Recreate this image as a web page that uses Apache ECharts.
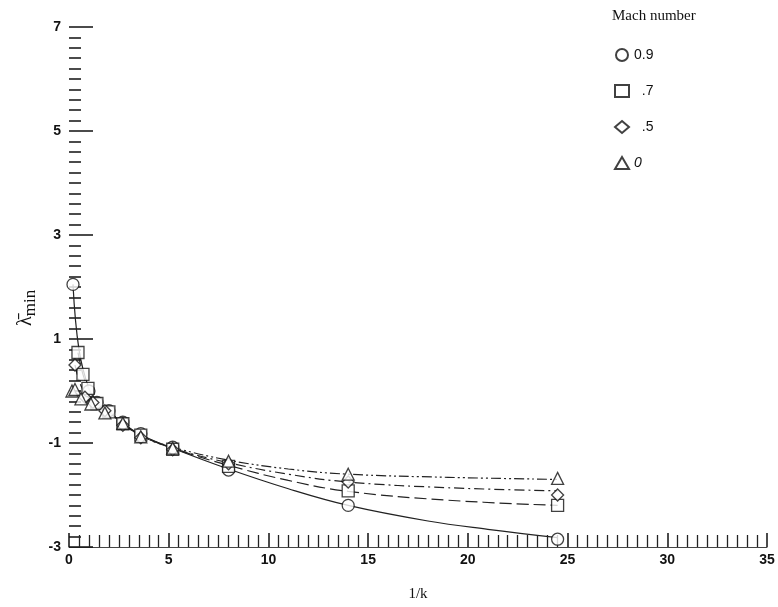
<!DOCTYPE html>
<html>
<head>
<meta charset="utf-8">
<script src="https://cdn.jsdelivr.net/npm/echarts@6/dist/echarts.min.js"></script>
<style>
  html, body { margin: 0; padding: 0; background: #fff; }
  #main { width: 778px; height: 607px; }
</style>
</head>
<body>
<div id="main"></div>
<script>
var machNames = ['0.9', '.7', '.5', '0']
var symbols = ['circle', 'rect', 'diamond', 'triangle']
var dashes = ['solid', [12, 5], [10, 4, 2, 4], [10, 3, 2, 3, 2, 3]]

// test points (1/k, lambda min)
var ptsX09 = [0.2, 1.0, 1.4, 2.0, 2.7, 3.6, 5.2, 8, 14, 24.5]
var ptsY09 = [2.05, 0.0, -0.22, -0.38, -0.6, -0.82, -1.08, -1.52, -2.2, -2.85]
var ptsX07 = [0.45, 0.7, 0.95, 1.4, 2.0, 2.7, 3.6, 5.2, 8, 14, 24.5]
var ptsY07 = [0.74, 0.32, 0.05, -0.24, -0.4, -0.63, -0.85, -1.12, -1.45, -1.92, -2.2]
var ptsX05 = [0.3, 0.8, 1.2, 1.8, 2.7, 3.6, 5.2, 8, 14, 24.5]
var ptsY05 = [0.5, -0.12, -0.22, -0.38, -0.66, -0.9, -1.13, -1.4, -1.75, -2.0]
var ptsX0 = [0.15, 0.3, 0.6, 1.1, 1.8, 2.7, 3.6, 5.2, 8, 14, 24.5]
var ptsY0 = [0.0, 0.03, -0.15, -0.25, -0.42, -0.62, -0.88, -1.1, -1.35, -1.6, -1.68]

// faired curves
var crvX09 = [0.2, 0.5, 1, 1.5, 2, 2.7, 3.6, 5.2, 8, 11, 14, 18, 21, 24.5]
var crvY09 = [2.05, 0.8, 0.05, -0.25, -0.4, -0.62, -0.84, -1.1, -1.5, -1.88, -2.2, -2.5, -2.66, -2.82]
var crvX07 = [0.45, 0.7, 1, 1.5, 2, 2.7, 3.6, 5.2, 8, 11, 14, 19, 24.5]
var crvY07 = [0.74, 0.32, 0.03, -0.25, -0.4, -0.63, -0.85, -1.1, -1.43, -1.72, -1.93, -2.1, -2.2]
var crvX05 = [0.3, 0.6, 1, 1.5, 2, 2.7, 3.6, 5.2, 8, 11, 14, 19, 24.5]
var crvY05 = [0.5, 0.1, -0.12, -0.28, -0.4, -0.63, -0.86, -1.1, -1.38, -1.6, -1.75, -1.86, -1.92]
var crvX0 = [0.15, 0.5, 1, 1.5, 2, 2.7, 3.6, 5.2, 8, 11, 14, 19, 24.5]
var crvY0 = [0.0, -0.08, -0.18, -0.28, -0.4, -0.62, -0.86, -1.08, -1.33, -1.5, -1.6, -1.66, -1.7]

var pts = [[ptsX09, ptsY09], [ptsX07, ptsY07], [ptsX05, ptsY05], [ptsX0, ptsY0]]
var crvs = [[crvX09, crvY09], [crvX07, crvY07], [crvX05, crvY05], [crvX0, crvY0]]

function pairs(xs, ys) {
  return xs.map(function (x, i) { return [x, ys[i]] })
}

var myChart = echarts.init(document.getElementById('main'))
var series = []
crvs.forEach(function (c, i) {
  series.push({
    name: 'curve' + i,
    type: 'line',
    smooth: 0.4,
    showSymbol: false,
    silent: true,
    lineStyle: { color: '#222', width: 1.2, type: dashes[i] },
    data: pairs(c[0], c[1])
  })
})
pts.forEach(function (p, i) {
  series.push({
    name: machNames[i],
    type: 'scatter',
    symbol: symbols[i],
    symbolSize: 12,
    itemStyle: { color: '#fff', borderColor: '#111', borderWidth: 1.3 },
    data: pairs(p[0], p[1]),
    z: 3
  })
})

var tickFont = { fontFamily: 'Liberation Sans', fontSize: 14, fontWeight: 'bold', color: '#111' }

var option = {
  animation: false,
  backgroundColor: '#fff',
  grid: { left: 69, right: 11, top: 27, bottom: 59 },
  legend: {
    data: machNames,
    orient: 'vertical',
    left: 609,
    top: 43,
    itemGap: 22,
    itemWidth: 14,
    itemHeight: 12,
    textStyle: {
      fontFamily: 'Liberation Sans', fontSize: 14, color: '#111',
      rich: { it: { fontStyle: 'italic', fontFamily: 'Liberation Sans', fontSize: 14, color: '#111' } }
    },
    formatter: function (n) {
      if (n === '0') return '{it|0}'
      return n === '.7' || n === '.5' ? '  ' + n : n
    }
  },
  xAxis: {
    type: 'value',
    min: 0, max: 35, interval: 5,
    name: '1/k',
    nameLocation: 'middle',
    nameGap: 40,
    nameTextStyle: { fontFamily: 'Liberation Serif', fontSize: 15, color: '#111' },
    axisLine: { show: true, onZero: false, lineStyle: { color: '#444', width: 1 } },
    axisTick: { show: true, inside: true, length: 14, lineStyle: { color: '#111', width: 1.5 } },
    minorTick: { show: true, splitNumber: 10, length: 12, lineStyle: { color: '#222', width: 1.3 } },
    splitLine: { show: false },
    axisLabel: Object.assign({ margin: 6 }, tickFont)
  },
  yAxis: {
    type: 'value',
    min: -3, max: 7, interval: 2,
    axisLine: { show: false, onZero: false },
    axisTick: { show: true, inside: true, length: 24, lineStyle: { color: '#111', width: 1.5 } },
    minorTick: { show: true, splitNumber: 10, length: 12, lineStyle: { color: '#111', width: 1.5 } },
    splitLine: { show: false },
    axisLabel: Object.assign({ margin: 8 }, tickFont)
  },
  graphic: [
    {
      type: 'text',
      left: 612, top: 9,
      style: { text: 'Mach number', font: '15px "Liberation Serif"', fill: '#111' }
    },
    {
      type: 'text',
      x: 12, y: 326,
      rotation: Math.PI / 2,
      style: {
        text: '{a|λ̄}{b|min}',
        rich: {
          a: { font: '20px "Liberation Serif"', fill: '#111' },
          b: { font: '17px "Liberation Serif"', fill: '#111', padding: [10, 0, 0, 0] }
        }
      }
    }
  ],
  series: series
}

myChart.setOption(option)
</script>
</body>
</html>
